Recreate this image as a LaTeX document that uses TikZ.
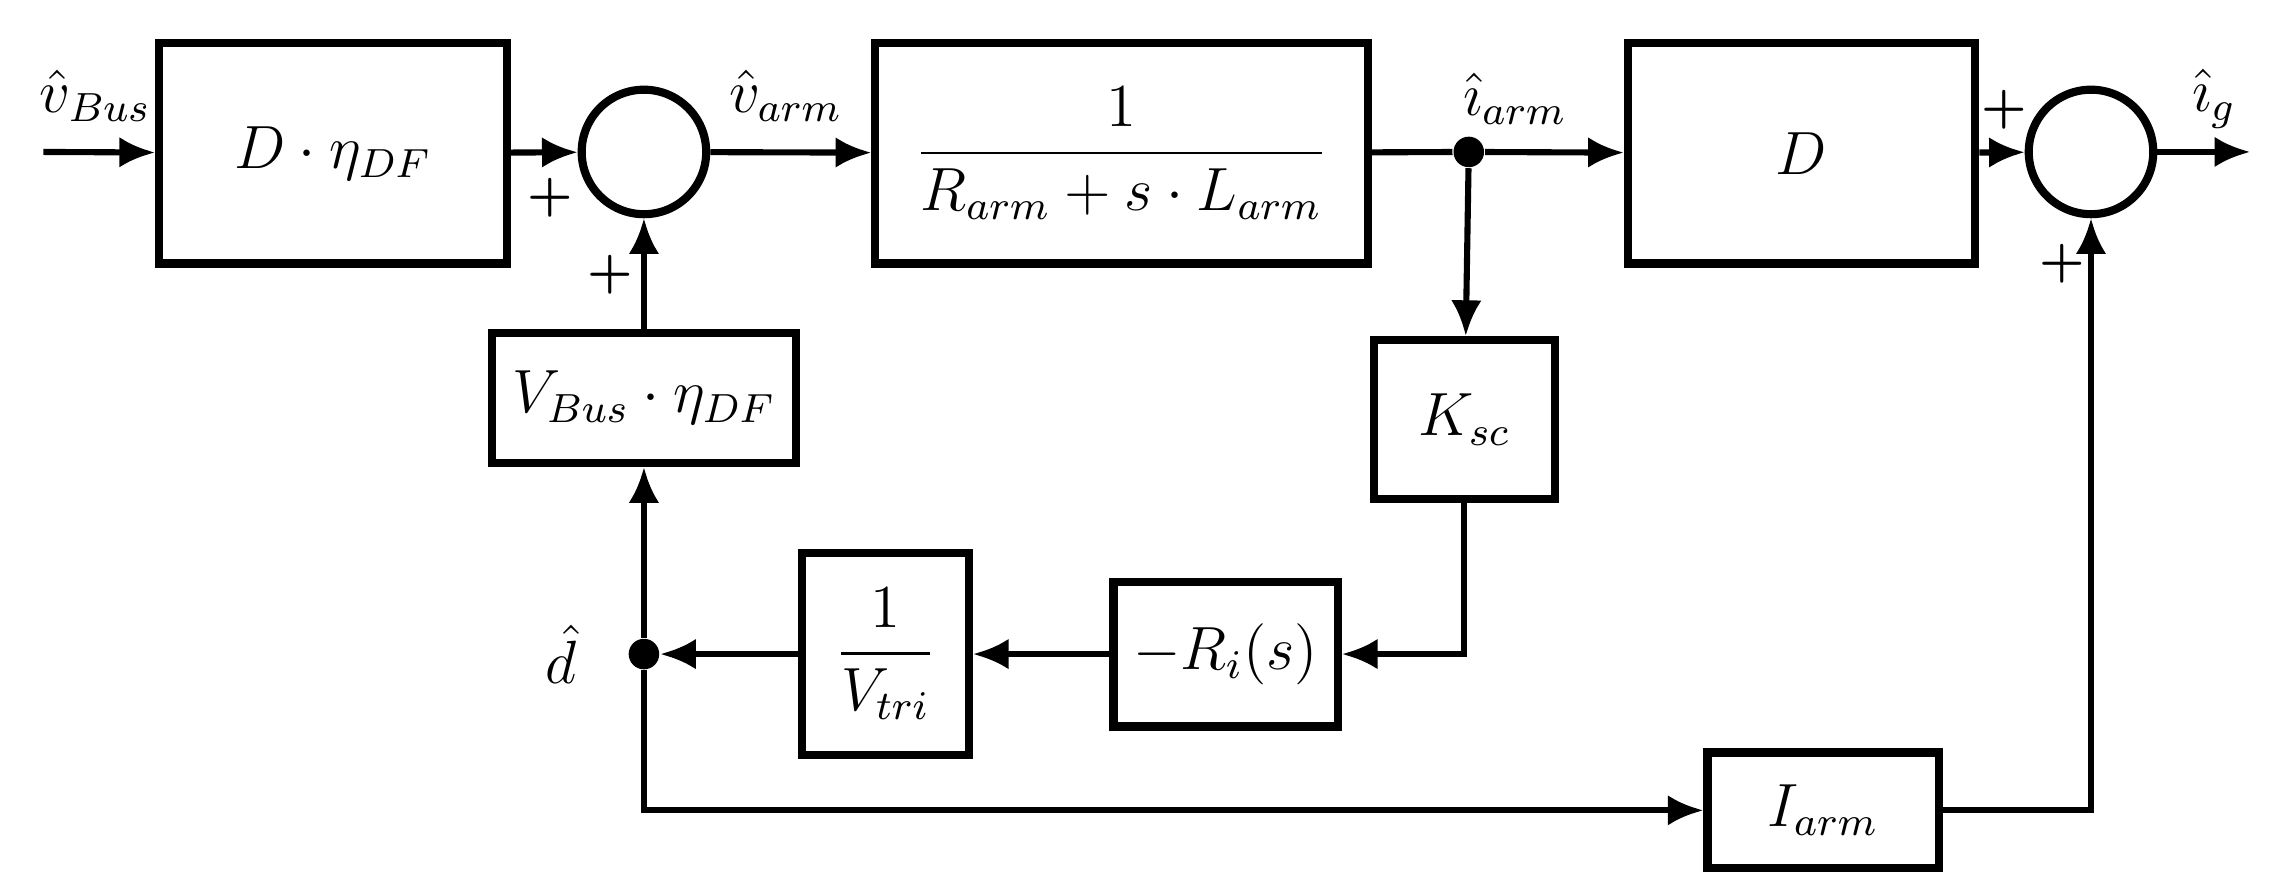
\documentclass[tikz,border=0pt]{standalone}
\usepackage{amsmath}
\usetikzlibrary{arrows.meta}
\begin{document}
\begin{tikzpicture}[x=0.01cm,y=-0.01cm,font=\large,
 blk/.style={draw,line width=1.6pt,inner sep=0pt},
 sum/.style={draw,line width=1.6pt,circle,minimum size=0.86cm,inner sep=0pt},
 ar/.style={line width=1.2pt,-{Latex[length=7pt,width=6pt]}},
 ln/.style={line width=1.2pt},
 dot/.style={circle,fill,inner sep=0pt,minimum size=6pt}]
\useasboundingbox (0,0) rectangle (1568,618);
\node[blk,minimum width=2.4cm,minimum height=1.52cm] (b1) at (230,106) {$D\cdot\eta_{DF}$};
\node[sum] (s1) at (445,105) {};
\node[blk,minimum width=3.4cm,minimum height=1.52cm] (b2) at (775,106) {$\dfrac{1}{R_{arm}+s\cdot L_{arm}}$};
\node[dot] (j1) at (1015,105) {};
\node[blk,minimum width=2.4cm,minimum height=1.52cm] (b3) at (1245,106) {$D$};
\node[sum] (s2) at (1445,105) {};
\node[blk,minimum width=2.1cm,minimum height=0.9cm] (b4) at (445,275) {$V_{Bus}\cdot\eta_{DF}$};
\node[blk,minimum width=1.25cm,minimum height=1.1cm] (b5) at (1012,290) {$K_{sc}$};
\node[blk,minimum width=1.55cm,minimum height=1.0cm] (b6) at (847,452) {$-R_i(s)$};
\node[blk,minimum width=1.15cm,minimum height=1.4cm] (b7) at (612,452) {$\dfrac{1}{V_{tri}}$};
\node[dot] (j2) at (445,452) {};
\node[blk,minimum width=1.6cm,minimum height=0.8cm] (b8) at (1260,560) {$I_{arm}$};
\draw[ar] (30,105) -- (b1);
\draw[ar] (b1) -- (s1);
\draw[ar] (s1) -- (b2);
\draw[ln] (b2) -- (j1);
\draw[ar] (j1) -- (b3);
\draw[ar] (b3) -- (s2);
\draw[ar] (s2) -- (1555,105);
\draw[ar] (b4) -- (s1);
\draw[ar] (j1) -- (b5);
\draw[ar] (b5.south) |- (b6.east);
\draw[ar] (b6) -- (b7);
\draw[ar] (b7) -- (j2);
\draw[ar] (j2) -- (b4);
\draw[ar] (j2) |- (b8.west);
\draw[ar] (b8.east) -| (s2.south);
\node at (66,66) {$\hat v_{Bus}$};
\node at (543,66) {$\hat v_{arm}$};
\node at (1047,68) {$\hat\imath_{arm}$};
\node at (1530,68) {$\hat\imath_{g}$};
\node at (388,452) {$\hat d$};
\node[font=\normalsize\bfseries] at (380,137) {+};
\node[font=\normalsize\bfseries] at (422,190) {+};
\node[font=\normalsize\bfseries] at (1385,76) {+};
\node[font=\normalsize\bfseries] at (1425,182) {+};
\end{tikzpicture}
\end{document}
